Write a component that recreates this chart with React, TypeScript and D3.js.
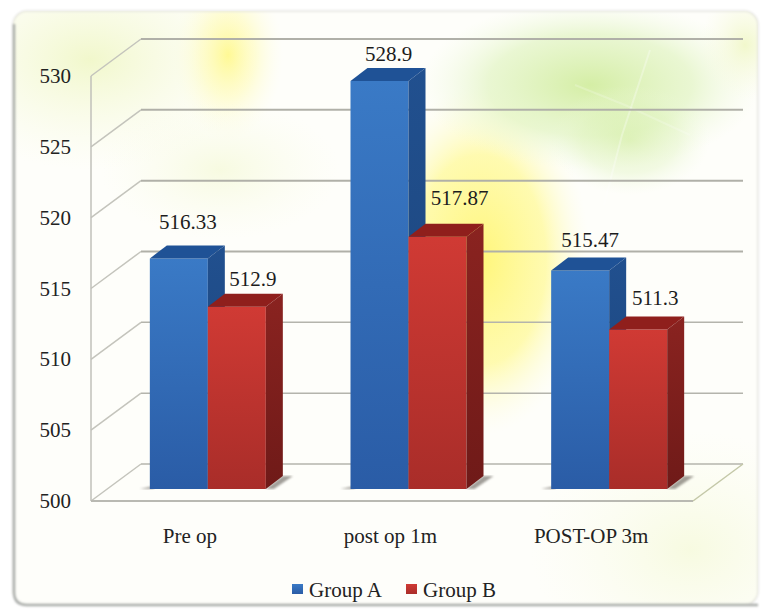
import React from "react";
import * as d3 from "d3";

const categories = ["Pre op", "post op 1m", "POST-OP 3m"];
const groupNames = ["Group A", "Group B"];
const groupA = [516.33, 528.9, 515.47];
const groupB = [512.9, 517.87, 511.3];
const yTicks = [500, 505, 510, 515, 520, 525, 530];
const labelNudgeA = [[9, -36], [9, -27], [10, -31]];
const labelNudgeB = [[16, -28], [22, -39], [17, -31]];

const W = 761;
const H = 612;
const FONT = "'Liberation Serif', serif";

// Front plane of the 3D chart box and the depth vector towards its back wall.
const yWall = d3.scaleLinear().domain([500, 530]).range([501, 76]);
const yBar = d3.scaleLinear().domain([500, 530]).range([489, 65.4]);
const xLeft = 91;
const xRight = 693;
const wallDx = 50;
const wallDy = -37;
const xCat = d3.scaleBand().domain(categories).range([xLeft + 8, xRight + 8]);
const clusterWidth = 116;
const xGroup = d3.scaleBand().domain(groupNames).range([0, clusterWidth]);
const barDx = 17;
const barDy = -13;

const poly = (pts: number[][]) => (d3.line()(pts as [number, number][]) ?? "") + "Z";

type Tone = { id: string; front: string[]; top: string; side: string[] };
const tones: Tone[] = [
  { id: "a", front: ["#3a7ac6", "#2a5ca6"], top: "#1f5296", side: ["#21508f", "#1b4378"] },
  { id: "b", front: ["#d03a34", "#a92d29"], top: "#8f1f1c", side: ["#8a2320", "#6f1a18"] },
];

function Bar({ x, value, tone }: { x: number; value: number; tone: Tone }) {
  const w = xGroup.bandwidth();
  const top = yBar(value);
  const bottom = yBar(500);
  return (
    <g>
      <path d={poly([[x, top], [x + w, top], [x + w, bottom], [x, bottom]])} fill={`url(#front-${tone.id})`} />
      <path d={poly([[x, top], [x + barDx, top + barDy], [x + w + barDx, top + barDy], [x + w, top]])} fill={tone.top} />
      <path d={poly([[x + w, top], [x + w + barDx, top + barDy], [x + w + barDx, bottom + barDy], [x + w, bottom]])} fill={`url(#side-${tone.id})`} />
    </g>
  );
}

export default function App() {
  const groupStart = (c: string) =>
    (xCat(c) as number) + (xCat.bandwidth() - clusterWidth) / 2 + 8.5;
  return (
    <svg width={W} height={H} style={{ position: "absolute", left: 0, top: 0 }} fontFamily={FONT}>
      <defs>
        {tones.map((t) => (
          <React.Fragment key={t.id}>
            <linearGradient id={`front-${t.id}`} x1="0" y1="0" x2="0" y2="1">
              <stop offset="0" stopColor={t.front[0]} />
              <stop offset="1" stopColor={t.front[1]} />
            </linearGradient>
            <linearGradient id={`side-${t.id}`} x1="0" y1="0" x2="0" y2="1">
              <stop offset="0" stopColor={t.side[0]} />
              <stop offset="1" stopColor={t.side[1]} />
            </linearGradient>
          </React.Fragment>
        ))}
        <radialGradient id="glowYellowTop">
          <stop offset="0" stopColor="#fff88a" stopOpacity="0.9" />
          <stop offset="0.5" stopColor="#fffbb0" stopOpacity="0.5" />
          <stop offset="1" stopColor="#fffde0" stopOpacity="0" />
        </radialGradient>
        <radialGradient id="glowYellowMid">
          <stop offset="0" stopColor="#fff67a" stopOpacity="1" />
          <stop offset="0.6" stopColor="#fff990" stopOpacity="0.7" />
          <stop offset="1" stopColor="#fffde0" stopOpacity="0" />
        </radialGradient>
        <radialGradient id="glowGreen">
          <stop offset="0" stopColor="#cdeb96" stopOpacity="0.85" />
          <stop offset="0.6" stopColor="#dcf2b8" stopOpacity="0.6" />
          <stop offset="1" stopColor="#eef9dc" stopOpacity="0" />
        </radialGradient>
        <radialGradient id="glowPale">
          <stop offset="0" stopColor="#eef6c0" stopOpacity="0.8" />
          <stop offset="1" stopColor="#f8fbe0" stopOpacity="0" />
        </radialGradient>
        <filter id="frameShade" x="-5%" y="-5%" width="110%" height="110%">
          <feGaussianBlur stdDeviation="1" />
        </filter>
        <clipPath id="panel">
          <rect x={13} y={11} width={745} height={594} rx={14} />
        </clipPath>
      </defs>

      <rect width={W} height={H} fill="#ffffff" />

      {/* Panel backdrop with its soft colour glows */}
      <g clipPath="url(#panel)">
        <rect x={13} y={11} width={745} height={594} fill="#fefefa" />
        <ellipse cx={90} cy={60} rx={170} ry={110} fill="url(#glowPale)" />
        <ellipse cx={228} cy={55} rx={55} ry={85} fill="url(#glowYellowTop)" />
        <ellipse cx={480} cy={260} rx={110} ry={175} fill="url(#glowYellowMid)" />
        <ellipse cx={220} cy={170} rx={120} ry={70} fill="url(#glowPale)" opacity={0.55} />
        <ellipse cx={590} cy={85} rx={170} ry={85} fill="url(#glowGreen)" />
        <ellipse cx={630} cy={140} rx={80} ry={55} fill="url(#glowGreen)" opacity={0.6} />
        <ellipse cx={745} cy={45} rx={45} ry={55} fill="url(#glowPale)" />
        <ellipse cx={690} cy={550} rx={160} ry={120} fill="url(#glowPale)" opacity={0.55} />
        <path d="M650 50 L622 135 L604 205" stroke="#ffffff" strokeOpacity={0.3} strokeWidth={2} fill="none" />
        <path d="M575 85 L625 105 L690 135" stroke="#ffffff" strokeOpacity={0.2} strokeWidth={2} fill="none" />
      </g>

      {/* Panel frame: heavier shading on the left and bottom edges */}
      <g filter="url(#frameShade)" fill="none">
        <rect x={13} y={11} width={745} height={594} rx={14} stroke="#e4e4de" strokeWidth={1.5} />
        <path d="M14 24 V592 Q14 605 27 605 H758" stroke="#a9aca9" strokeWidth={2.5} />
      </g>

      {/* Wall and floor grid */}
      <g fill="none" stroke="#b9b9b2">
        {yTicks.map((t) => {
          const y = yWall(t);
          const yBack = y + wallDy;
          return (
            <g key={t} strokeWidth={t > 510 ? 2 : 1.5} stroke={t > 510 ? "#b0b0a8" : "#b4b4ac"}>
              <line x1={xLeft} y1={y} x2={xLeft + wallDx} y2={yBack} strokeWidth={1.5} stroke="#c4c4bc" />
              <line x1={xLeft + wallDx} y1={yBack} x2={xRight + wallDx} y2={yBack} />
            </g>
          );
        })}
        <line x1={xLeft} y1={yWall(530)} x2={xLeft} y2={yWall(500)} strokeWidth={1.5} stroke="#c0c0ba" />
        <line x1={xLeft} y1={yWall(500)} x2={xRight} y2={yWall(500)} strokeWidth={2} />
        <line x1={xRight} y1={yWall(500)} x2={xRight + wallDx} y2={yWall(500) + wallDy} strokeWidth={1.5} stroke="#c4c8a8" />
      </g>

      {/* Contact shadows beside each bar pair */}
      {categories.map((c) => {
        const x0 = groupStart(c);
        const b = yBar(500);
        return (
          <g key={c}>
            <path d={poly([[x0 + clusterWidth, b], [x0 + clusterWidth + 17, b + barDy], [x0 + clusterWidth + 27, b + barDy], [x0 + clusterWidth + 8, b]])} fill="#55504a" opacity={0.55} filter="url(#frameShade)" />
            <path d={poly([[x0 - 10, b], [x0 + 4, b - 3], [x0 + 4, b]])} fill="#66625c" opacity={0.6} filter="url(#frameShade)" />
          </g>
        );
      })}

      {/* Bars, one pair per category */}
      {categories.map((c, i) => {
        const x0 = groupStart(c);
        return (
          <g key={c}>
            <Bar x={x0 + (xGroup("Group A") as number)} value={groupA[i]} tone={tones[0]} />
            <Bar x={x0 + (xGroup("Group B") as number)} value={groupB[i]} tone={tones[1]} />
          </g>
        );
      })}

      {/* Value labels */}
      <g fontSize={21} fill="#1c1c1c" textAnchor="middle" dominantBaseline="central">
        {categories.map((c, i) => {
          const x0 = groupStart(c);
          const w = xGroup.bandwidth();
          return (
            <g key={c}>
              <text x={x0 + w / 2 + labelNudgeA[i][0]} y={yBar(groupA[i]) + labelNudgeA[i][1]}>{String(groupA[i])}</text>
              <text x={x0 + w * 1.5 + labelNudgeB[i][0]} y={yBar(groupB[i]) + labelNudgeB[i][1]}>{String(groupB[i])}</text>
            </g>
          );
        })}
      </g>

      {/* Axis labels */}
      <g fontSize={21} fill="#222222">
        {yTicks.map((t) => (
          <text key={t} x={71} y={yWall(t)} textAnchor="end" dominantBaseline="central">{t}</text>
        ))}
        {categories.map((c) => (
          <text key={c} x={groupStart(c) + clusterWidth / 2 - 18} y={536} textAnchor="middle" dominantBaseline="central">{c}</text>
        ))}
      </g>

      {/* Legend */}
      <g fontSize={21} fill="#222222">
        {groupNames.map((g, i) => {
          const x = i === 0 ? 292 : 406;
          return (
            <g key={g}>
              <rect x={x} y={584} width={11} height={10} fill={`url(#front-${tones[i].id})`} />
              <text x={x + 17} y={590} dominantBaseline="central">{g}</text>
            </g>
          );
        })}
      </g>
    </svg>
  );
}
